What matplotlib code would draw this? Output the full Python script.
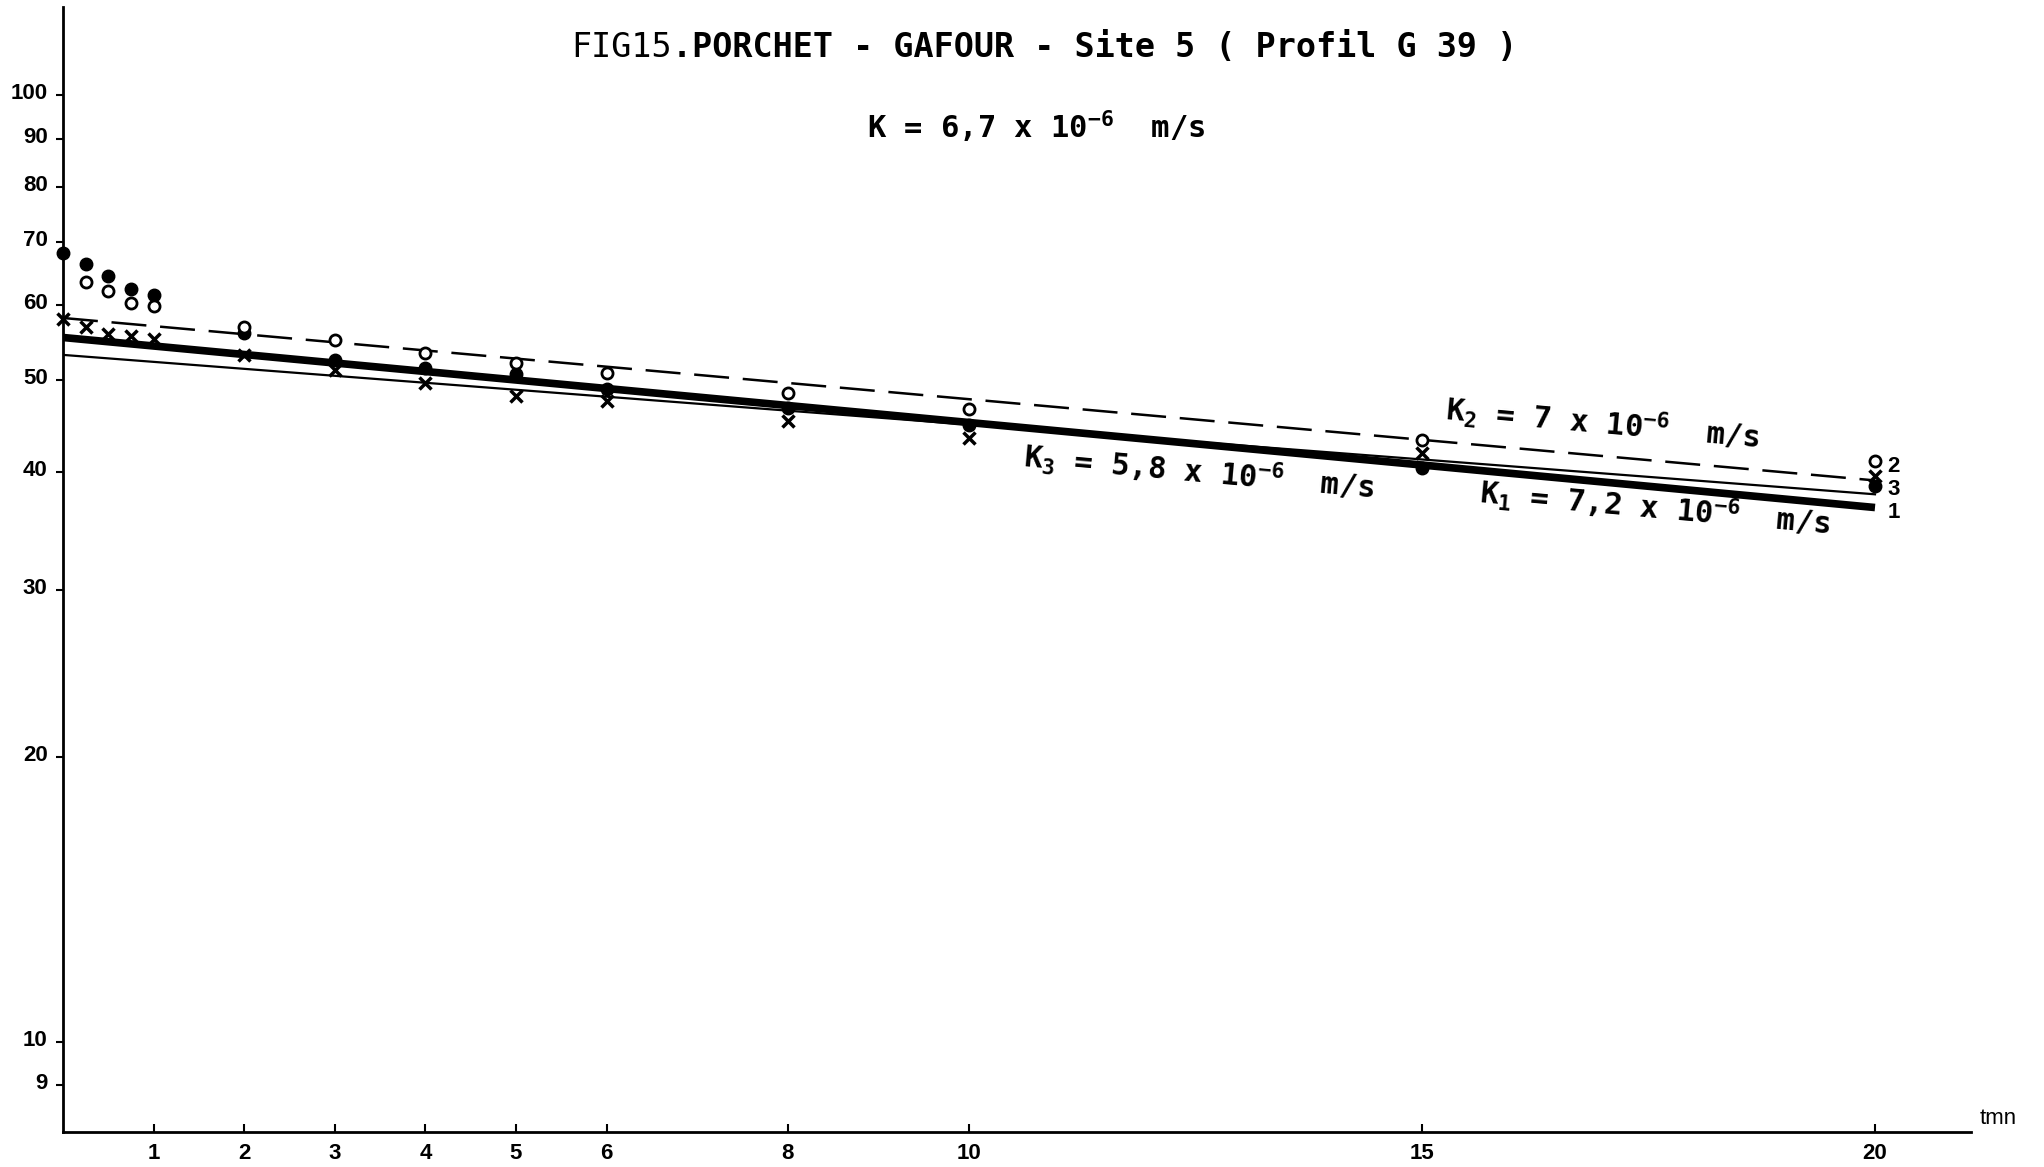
import matplotlib
matplotlib.use("Agg")
import matplotlib.pyplot as plt
import numpy as np
from matplotlib.ticker import NullLocator, FixedLocator, FixedFormatter
from matplotlib.transforms import ScaledTranslation

# --- data -------------------------------------------------------------
t_min = [0, 0.25, 0.5, 0.75, 1, 2, 3, 4, 5, 6, 8, 10, 15, 20]

# series 1 : filled circles
h1 = [68.1, 66.3, 64.4, 62.5, 61.5, 56.1, 52.6, 51.5, 50.8, 49.0, 46.8, 44.9, 40.4, 38.7]
# series 2 : open circles
h2 = [np.nan, 63.5, 62.1, 60.4, 59.9, 56.9, 55.1, 53.5, 52.2, 50.9, 48.5, 46.6, 43.2, 41.1]
# series 3 : crosses
h3 = [58.0, 56.9, 56.0, 55.7, 55.3, 53.2, 51.3, 49.7, 48.1, 47.5, 45.3, 43.5, 41.9, 39.6]

# adjusted straight lines (log scale), end points at t = 0 and t = 20
t_fit = [0, 20]
fit1 = [55.5, 36.7]
fit2 = [58.2, 39.2]
fit3 = [53.2, 37.9]

x_ticks = [1, 2, 3, 4, 5, 6, 8, 10, 15, 20]
y_ticks = [9, 10, 20, 30, 40, 50, 60, 70, 80, 90, 100]

title_head = "FIG15"
title_tail = ".PORCHET - GAFOUR - Site 5 ( Profil G 39 )"
subtitle = r"K = 6,7 x 10$^{-6}$  m/s"
k1_label = r"K$_1$ = 7,2 x 10$^{-6}$  m/s"
k2_label = r"K$_2$ = 7 x 10$^{-6}$  m/s"
k3_label = r"K$_3$ = 5,8 x 10$^{-6}$  m/s"

# --- style ------------------------------------------------------------
plt.rcParams["mathtext.fontset"] = "custom"
plt.rcParams["mathtext.rm"] = "DejaVu Sans Mono:bold"
plt.rcParams["mathtext.it"] = "DejaVu Sans Mono:bold"
plt.rcParams["mathtext.bf"] = "DejaVu Sans Mono:bold"

fig = plt.figure(figsize=(20.44, 11.67), dpi=100)
ax = fig.add_axes([0.0308, 0.030, 0.9335, 0.964])
ax.set_yscale("log")
ax.set_xlim(0, 21.06)
ax.set_ylim(8.035, 124)

for s in ("top", "right"):
    ax.spines[s].set_visible(False)
for s in ("left", "bottom"):
    ax.spines[s].set_linewidth(2.0)

ax.yaxis.set_major_locator(FixedLocator(y_ticks))
ax.yaxis.set_major_formatter(FixedFormatter([str(v) for v in y_ticks]))
ax.yaxis.set_minor_locator(NullLocator())
ax.set_xticks(x_ticks)
ax.set_xticklabels([str(v) for v in x_ticks])
ax.tick_params(axis="y", direction="out", length=5, width=1.5, pad=6,
               labelsize=16)
ax.tick_params(axis="x", direction="in", length=6, width=1.5, pad=8,
               labelsize=16)
lift = ScaledTranslation(0, 4 / 100, fig.dpi_scale_trans)
for lab in ax.get_yticklabels():
    lab.set_fontfamily("Liberation Sans")
    lab.set_fontweight("bold")
    lab.set_transform(lab.get_transform() + lift)
for lab in ax.get_xticklabels():
    lab.set_fontfamily("Liberation Sans")
    lab.set_fontweight("bold")

# --- lines ------------------------------------------------------------
ax.plot(t_fit, fit1, color="black", lw=5.5, solid_capstyle="butt", zorder=3)
ax.plot(t_fit, fit3, color="black", lw=1.6, zorder=3)
ax.plot(t_fit, fit2, color="black", lw=1.8, linestyle=(0, (14, 5.5)), zorder=3)

# --- points -----------------------------------------------------------
ax.plot(t_min, h1, linestyle="none", marker="o", ms=9, color="black",
        zorder=5, clip_on=False)
ax.plot(t_min, h2, linestyle="none", marker="o", ms=8, mfc="white",
        mec="black", mew=2.0, zorder=5, clip_on=False)
ax.plot(t_min, h3, linestyle="none", marker="x", ms=8, mew=2.5,
        color="black", zorder=5, clip_on=False)

# --- texts ------------------------------------------------------------
fig.canvas.draw()
renderer = fig.canvas.get_renderer()
t_head = fig.text(0.0, 0.9597, title_head, ha="left", va="center",
                  family="DejaVu Sans Mono", fontsize=24)
t_tail = fig.text(0.0, 0.9597, title_tail, ha="left", va="center",
                  family="DejaVu Sans Mono", fontweight="bold", fontsize=24)
w_head = t_head.get_window_extent(renderer).width
w_tail = t_tail.get_window_extent(renderer).width
fig_w = fig.bbox.width
x0 = 0.511 - (w_head + w_tail) / 2 / fig_w
t_head.set_x(x0)
t_tail.set_x(x0 + w_head / fig_w)

fig.text(0.507, 0.891, subtitle, ha="center", va="center",
         family="DejaVu Sans Mono", fontweight="bold", fontsize=22)

def line_angle(tv, yv):
    p = ax.transData.transform(np.column_stack([tv, yv]))
    return np.degrees(np.arctan2(p[1, 1] - p[0, 1], p[1, 0] - p[0, 0]))

ang = line_angle(t_fit, fit2)
for (x, y, s) in [(17.0, 45.0, k2_label), (12.54, 40.0, k3_label),
                  (17.58, 36.7, k1_label)]:
    ax.text(x, y, s, ha="center", va="center", rotation=ang,
            rotation_mode="anchor", family="DejaVu Sans Mono",
            fontweight="bold", fontsize=22, zorder=6)

for (y, s) in [(40.6, "2"), (38.3, "3"), (36.3, "1")]:
    ax.text(20.14, y, s, ha="left", va="center", fontsize=16,
            family="Liberation Sans", fontweight="bold", clip_on=False)

ax.text(21.15, 8.31, "tmn", ha="left", va="center", fontsize=16,
        family="Liberation Sans", clip_on=False)

fig.savefig("out.png", dpi=100, facecolor="white")
